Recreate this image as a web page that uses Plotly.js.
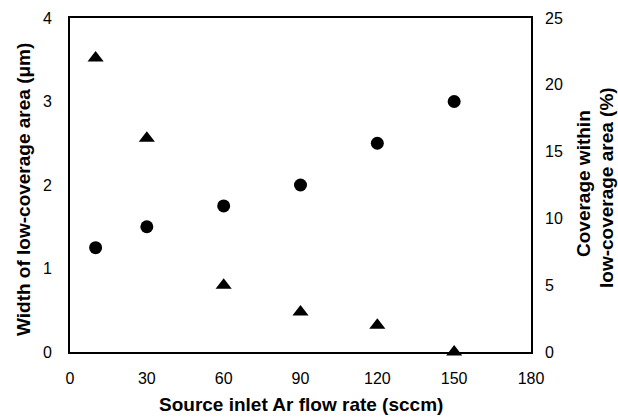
<!DOCTYPE html>
<html>
<head>
<meta charset="utf-8">
<script src="https://cdn.plot.ly/plotly-3.0.1.min.js"></script>
<style>html,body{margin:0;padding:0;background:#fff;}#chart{width:618px;height:417px;}</style>
</head>
<body>
<div id="chart"></div>
<script>
const flowRate = [10, 30, 60, 90, 120, 150];
const widthUm = [1.25, 1.5, 1.75, 2.0, 2.5, 3.0];
const coveragePct = [22, 16, 5, 3, 2, 0];
const xTicks = [0, 30, 60, 90, 120, 150, 180];
const yLeftTicks = [0, 1, 2, 3, 4];
const yRightTicks = [0, 5, 10, 15, 20, 25];
const xTitle = 'Source inlet Ar flow rate (sccm)';
const yLeftTitle = 'Width of low-coverage area (μm)';
const yRightTitle = ['Coverage within', 'low-coverage area (%)'];

const fontFam = 'Liberation Sans, Arial, sans-serif';
const W = 618, H = 417, L = 70, R = 87, T = 18, B = 65;
const pw = W - L - R, ph = H - T - B;
const px = v => (v - L) / pw;          // pixel -> paper x
const py = v => (H - B - v) / ph;      // pixel -> paper y

const traces = [
  {x: flowRate, y: widthUm, type: 'scatter', mode: 'markers', name: 'Width',
   marker: {symbol: 'circle', size: 13, color: '#000'}, cliponaxis: false},
  {x: flowRate, y: coveragePct, type: 'scatter', mode: 'markers', name: 'Coverage', yaxis: 'y2',
   marker: {symbol: 'triangle-up', size: 14, color: '#000'}, cliponaxis: false}
];
const tf = {family: fontFam, size: 19, color: '#000'};
const layout = {
  width: W, height: H,
  margin: {l: L, r: R, t: T, b: B},
  paper_bgcolor: '#fff', plot_bgcolor: '#fff',
  showlegend: false,
  font: {family: fontFam, color: '#000', size: 16},
  xaxis: {range: [0, 180], tickvals: xTicks, showgrid: false, zeroline: false,
    showline: true, linecolor: '#000', linewidth: 2, mirror: true, ticks: '',
    ticklabelstandoff: 11, tickfont: {size: 16}},
  yaxis: {range: [0, 4], tickvals: yLeftTicks, showgrid: false, zeroline: false,
    showline: true, linecolor: '#000', linewidth: 2, mirror: true, ticks: '',
    ticklabelstandoff: 13, tickfont: {size: 16}},
  yaxis2: {range: [0, 25], tickvals: yRightTicks, overlaying: 'y', side: 'right',
    showgrid: false, zeroline: false, showline: false, ticks: '',
    ticklabelstandoff: 13, tickfont: {size: 16}},
  annotations: [
    {text: '<b>' + xTitle + '</b>', xref: 'paper', yref: 'paper', x: 0.5, y: py(404),
     xanchor: 'center', yanchor: 'middle', showarrow: false, font: tf},
    {text: '<b>' + yLeftTitle + '</b>', xref: 'paper', yref: 'paper', x: px(23), y: py(190),
     xanchor: 'center', yanchor: 'middle', textangle: -90, showarrow: false, font: tf},
    {text: '<b>' + yRightTitle[0] + '</b>', xref: 'paper', yref: 'paper', x: px(583), y: py(184),
     xanchor: 'center', yanchor: 'middle', textangle: -90, showarrow: false, font: tf},
    {text: '<b>' + yRightTitle[1] + '</b>', xref: 'paper', yref: 'paper', x: px(606), y: py(188),
     xanchor: 'center', yanchor: 'middle', textangle: -90, showarrow: false, font: tf}
  ]
};
Plotly.newPlot('chart', traces, layout, {displayModeBar: false, staticPlot: true});
</script>
</body>
</html>
